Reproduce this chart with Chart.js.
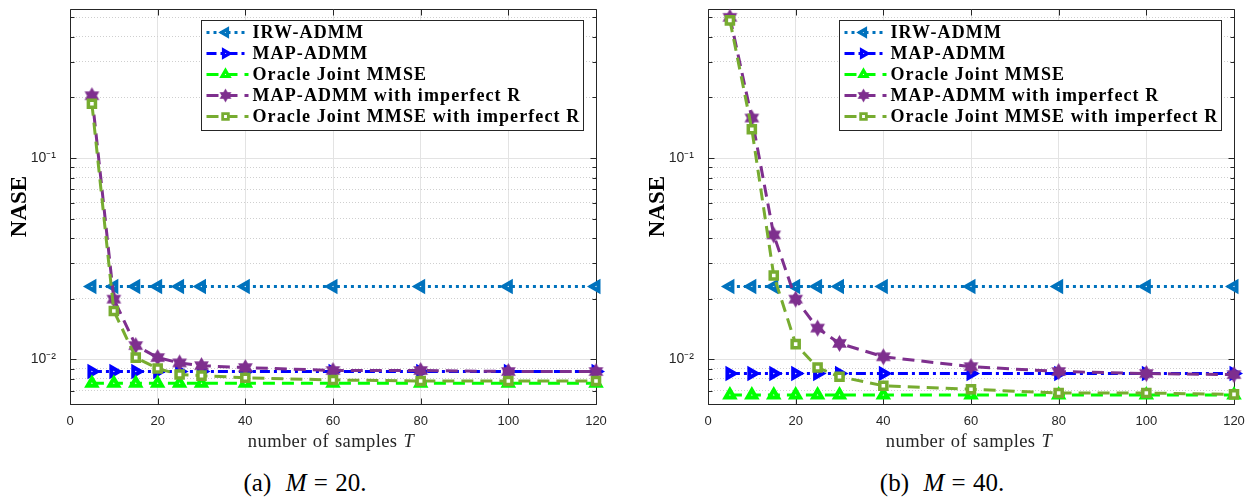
<!DOCTYPE html>
<html><head><meta charset="utf-8">
<script src="https://cdn.jsdelivr.net/npm/chart.js@4.4.1/dist/chart.umd.min.js"></script>
<style>
html,body{margin:0;padding:0;background:#fff;width:1254px;height:497px;overflow:hidden;position:relative;}
canvas{position:absolute;top:0;}
.xt{position:absolute;top:432px;width:300px;font-family:"Liberation Serif",serif;font-size:18.5px;line-height:18.5px;letter-spacing:0.4px;word-spacing:1px;color:#262626;text-align:center;white-space:nowrap;}
.cap{position:absolute;top:470px;width:300px;font-family:"Liberation Serif",serif;font-size:25px;line-height:25px;color:#000;text-align:center;white-space:nowrap;word-spacing:1px;}
</style></head><body>
<canvas id="c1" width="627" height="432" style="left:0px"></canvas>
<canvas id="c2" width="616" height="432" style="left:638px"></canvas>
<div class="xt" style="left:181px">number of samples <i>T</i></div>
<div class="xt" style="left:819px">number of samples <i>T</i></div>
<div class="cap" style="left:155px">(a)&nbsp; <i>M</i> = 20.</div>
<div class="cap" style="left:792px">(b)&nbsp; <i>M</i> = 40.</div>
<script>
// ---------- data ----------
const samplesT = [5, 10, 15, 20, 25, 30, 40, 60, 80, 100, 120];
const seriesNames = ['IRW-ADMM', 'MAP-ADMM', 'Oracle Joint MMSE', 'MAP-ADMM with imperfect R', 'Oracle Joint MMSE with imperfect R'];

// (a) M = 20
const irwM20     = [0.023, 0.023, 0.023, 0.023, 0.023, 0.023, 0.023, 0.023, 0.023, 0.023, 0.023];
const mapM20     = [0.0087, 0.0087, 0.0087, 0.0087, 0.0087, 0.0087, 0.0087, 0.0087, 0.0087, 0.0087, 0.0087];
const oracleM20  = [0.0076, 0.0076, 0.0076, 0.0076, 0.0076, 0.0076, 0.0076, 0.0076, 0.0076, 0.0076, 0.0076];
const mapImpM20  = [0.204, 0.0199, 0.0117, 0.0102, 0.0096, 0.0093, 0.0091, 0.0088, 0.0088, 0.0087, 0.0087];
const oracImpM20 = [0.186, 0.0174, 0.0102, 0.0090, 0.0084, 0.0083, 0.0081, 0.0079, 0.0078, 0.0078, 0.0078];

// (b) M = 40
const irwM40     = [0.023, 0.023, 0.023, 0.023, 0.023, 0.023, 0.023, 0.023, 0.023, 0.023, 0.023];
const mapM40     = [0.0085, 0.0085, 0.0085, 0.0085, 0.0085, 0.0085, 0.0085, 0.0085, 0.0085, 0.0085, 0.0085];
const oracleM40  = [0.00665, 0.00665, 0.00665, 0.00665, 0.00665, 0.00665, 0.00665, 0.00665, 0.00665, 0.00665, 0.00665];
const mapImpM40  = [0.50, 0.158, 0.0415, 0.0199, 0.0143, 0.0120, 0.0103, 0.0092, 0.0087, 0.0085, 0.0084];
const oracImpM40 = [0.483, 0.139, 0.0261, 0.0119, 0.0091, 0.0082, 0.0074, 0.0071, 0.0068, 0.0068, 0.0067];

// ticks
const xTickValues = [0, 20, 40, 60, 80, 100, 120];
const yGridValues = [0.006, 0.007, 0.008, 0.009, 0.01, 0.02, 0.03, 0.04, 0.05, 0.06, 0.07, 0.08, 0.09, 0.1, 0.2, 0.3, 0.4, 0.5];
const yMajorValues = [0.01, 0.1];
const yMajorLabels = ['10\u207B\u00B2', '10\u207B\u00B9'];
const yMin = 0.006, yMax = 0.55;

// ---------- styles ----------
function hexagram(color, R) {
  const c = document.createElement('canvas');
  const s = Math.ceil(2 * R + 2);
  c.width = c.height = s;
  const g = c.getContext('2d');
  g.fillStyle = color;
  const cx = s / 2;
  g.beginPath();
  for (let k = 0; k < 12; k++) {
    const ang = -Math.PI / 2 + k * Math.PI / 6;
    const r = k % 2 === 0 ? R : R / Math.sqrt(3);
    g.lineTo(cx + r * Math.cos(ang), cx + r * Math.sin(ang));
  }
  g.closePath();
  g.fill();
  return c;
}
const styles = [
  { color: '#0072BD', dash: [3, 4],        point: 'triangle', rot: -90, r: 5, bw: 4, bg: '#ffffff' },
  { color: '#0000FF', dash: [10, 4, 3, 4], point: 'triangle', rot: 90,  r: 5, bw: 4, bg: '#ffffff' },
  { color: '#00FF00', dash: [12, 7],       point: 'triangle', rot: 0,   r: 5, bw: 4, bg: '#ffffff' },
  { color: '#7E2F8E', dash: [12, 7],       point: hexagram('#7E2F8E', 8.5), rot: 0, r: 8.5, bw: 0, bg: '#7E2F8E' },
  { color: '#77AC30', dash: [12, 7],       point: 'rect',     rot: 0,   r: 5, bw: 3.5, bg: '#ffffff' }
];

function isMajorY(v) { return v !== undefined && yMajorValues.some(m => Math.abs(m - v) / m < 1e-6); }
function isGridY(v) { return v !== undefined && yGridValues.some(m => Math.abs(m - v) / m < 1e-6); }

// ---------- plugin: box, inward ticks, legend ----------
function drawLegend(chart) {
  const { ctx, chartArea: a } = chart;
  const w = 382, h = 110;
  const bx = Math.round(a.right - 13 - w) + 0.5, by = Math.round(a.top + 11) + 0.5;
  ctx.save();
  ctx.fillStyle = '#fff';
  ctx.fillRect(bx, by, w, h);
  ctx.strokeStyle = '#262626'; ctx.lineWidth = 1; ctx.setLineDash([]);
  ctx.strokeRect(bx, by, w, h);
  chart.data.datasets.forEach((ds, i) => {
    const cy = by + 12 + 21 * i;
    ctx.strokeStyle = ds.borderColor; ctx.lineWidth = ds.borderWidth; ctx.setLineDash(ds.borderDash);
    ctx.beginPath(); ctx.moveTo(bx + 5, cy); ctx.lineTo(bx + 47, cy); ctx.stroke();
    ctx.setLineDash([]);
    ctx.save();
    ctx.translate(bx + 24, cy); ctx.scale(0.8, 0.8);
    ctx.fillStyle = ds.pointBackgroundColor; ctx.strokeStyle = ds.pointBorderColor; ctx.lineWidth = ds.pointBorderWidth;
    Chart.helpers.drawPoint(ctx, { pointStyle: ds.pointStyle, rotation: ds.pointRotation, radius: ds.pointRadius, borderWidth: ds.pointBorderWidth }, 0, 0);
    ctx.restore();
    ctx.fillStyle = '#000';
    ctx.font = 'bold 18px "Liberation Serif"';
    try { ctx.letterSpacing = '1.1px'; } catch (e) {}
    ctx.textBaseline = 'middle'; ctx.textAlign = 'left';
    ctx.fillText(ds.label, bx + 51, cy + 1);
    try { ctx.letterSpacing = '0px'; } catch (e) {}
  });
  ctx.restore();
}
const framePlugin = {
  id: 'frame',
  beforeDatasetsDraw(chart) {
    const { ctx, chartArea: a, scales } = chart;
    ctx.save();
    ctx.strokeStyle = '#262626'; ctx.lineWidth = 1; ctx.setLineDash([]);
    const L = Math.round(a.left) + 0.5, R = Math.round(a.right) + 0.5, T = Math.round(a.top) + 0.5, B = Math.round(a.bottom) + 0.5;
    ctx.beginPath();
    ctx.rect(L, T, R - L, B - T);
    scales.x.ticks.forEach(t => {
      const p = Math.round(scales.x.getPixelForValue(t.value)) + 0.5;
      ctx.moveTo(p, B); ctx.lineTo(p, B - 6); ctx.moveTo(p, T); ctx.lineTo(p, T + 6);
    });
    scales.y.ticks.forEach(t => {
      const p = Math.round(scales.y.getPixelForValue(t.value)) + 0.5;
      const len = isMajorY(t.value) ? 6 : 4;
      ctx.moveTo(L, p); ctx.lineTo(L + len, p); ctx.moveTo(R, p); ctx.lineTo(R - len, p);
    });
    ctx.stroke();
    ctx.restore();
  },
  afterDraw(chart) { drawLegend(chart); }
};

function makeChart(id, series, padRight) {
  const datasets = series.map((vals, i) => {
    const s = styles[i];
    return {
      label: seriesNames[i],
      data: samplesT.map((t, k) => ({ x: t, y: vals[k] })),
      borderColor: s.color, backgroundColor: s.color, borderWidth: 3, borderDash: s.dash,
      pointStyle: s.point, pointRadius: s.r, pointRotation: s.rot, pointBorderWidth: s.bw,
      pointBackgroundColor: s.bg, pointBorderColor: s.color,
      tension: 0, clip: false, fill: false, order: 5 - i
    };
  });
  return new Chart(document.getElementById(id), {
    type: 'line',
    data: { datasets },
    options: {
      responsive: false, animation: false, devicePixelRatio: 1, events: [],
      layout: { padding: { top: 5, right: padRight, left: 0, bottom: 0 } },
      plugins: { legend: { display: false }, tooltip: { enabled: false } },
      scales: {
        x: {
          type: 'linear', min: 0, max: 120,
          afterBuildTicks(s) { s.ticks = xTickValues.map(v => ({ value: v })); },
          afterFit(s) { s.height = 28; s.paddingLeft = 0; s.paddingRight = 0; },
          grid: { drawTicks: false, color: '#e3e3e3', lineWidth: 1 },
          border: { display: false },
          ticks: { padding: 10, color: '#262626', font: { family: 'Liberation Sans, Arial, sans-serif', size: 13 }, maxRotation: 0, autoSkip: false }
        },
        y: {
          type: 'logarithmic', min: yMin, max: yMax,
          afterBuildTicks(s) { s.ticks = yGridValues.map(v => ({ value: v })); },
          afterFit(s) { s.width = 70; s.paddingTop = 0; s.paddingBottom = 0; },
          grid: {
            drawTicks: false, lineWidth: 1,
            color: c => { const v = c.tick && c.tick.value; return isMajorY(v) ? '#e3e3e3' : (isGridY(v) ? '#cfcfcf' : 'rgba(0,0,0,0)'); }
          },
          border: { display: false, dash: c => isMajorY(c.tick && c.tick.value) ? [] : [1, 2] },
          ticks: {
            autoSkip: false, padding: 14, color: '#262626',
            font: { family: 'Liberation Sans, Arial, sans-serif', size: 14 },
            callback: v => { const k = yMajorValues.findIndex(m => Math.abs(m - v) / m < 1e-6); return k >= 0 ? yMajorLabels[k] : ''; }
          },
          title: { display: true, text: 'NASE', color: '#000', font: { family: 'Liberation Serif', size: 23, weight: 'bold' }, padding: { top: 6, bottom: 0 } }
        }
      }
    },
    plugins: [framePlugin]
  });
}

makeChart('c1', [irwM20, mapM20, oracleM20, mapImpM20, oracImpM20], 31);
makeChart('c2', [irwM40, mapM40, oracleM40, mapImpM40, oracImpM40], 20);
</script>
</body></html>
